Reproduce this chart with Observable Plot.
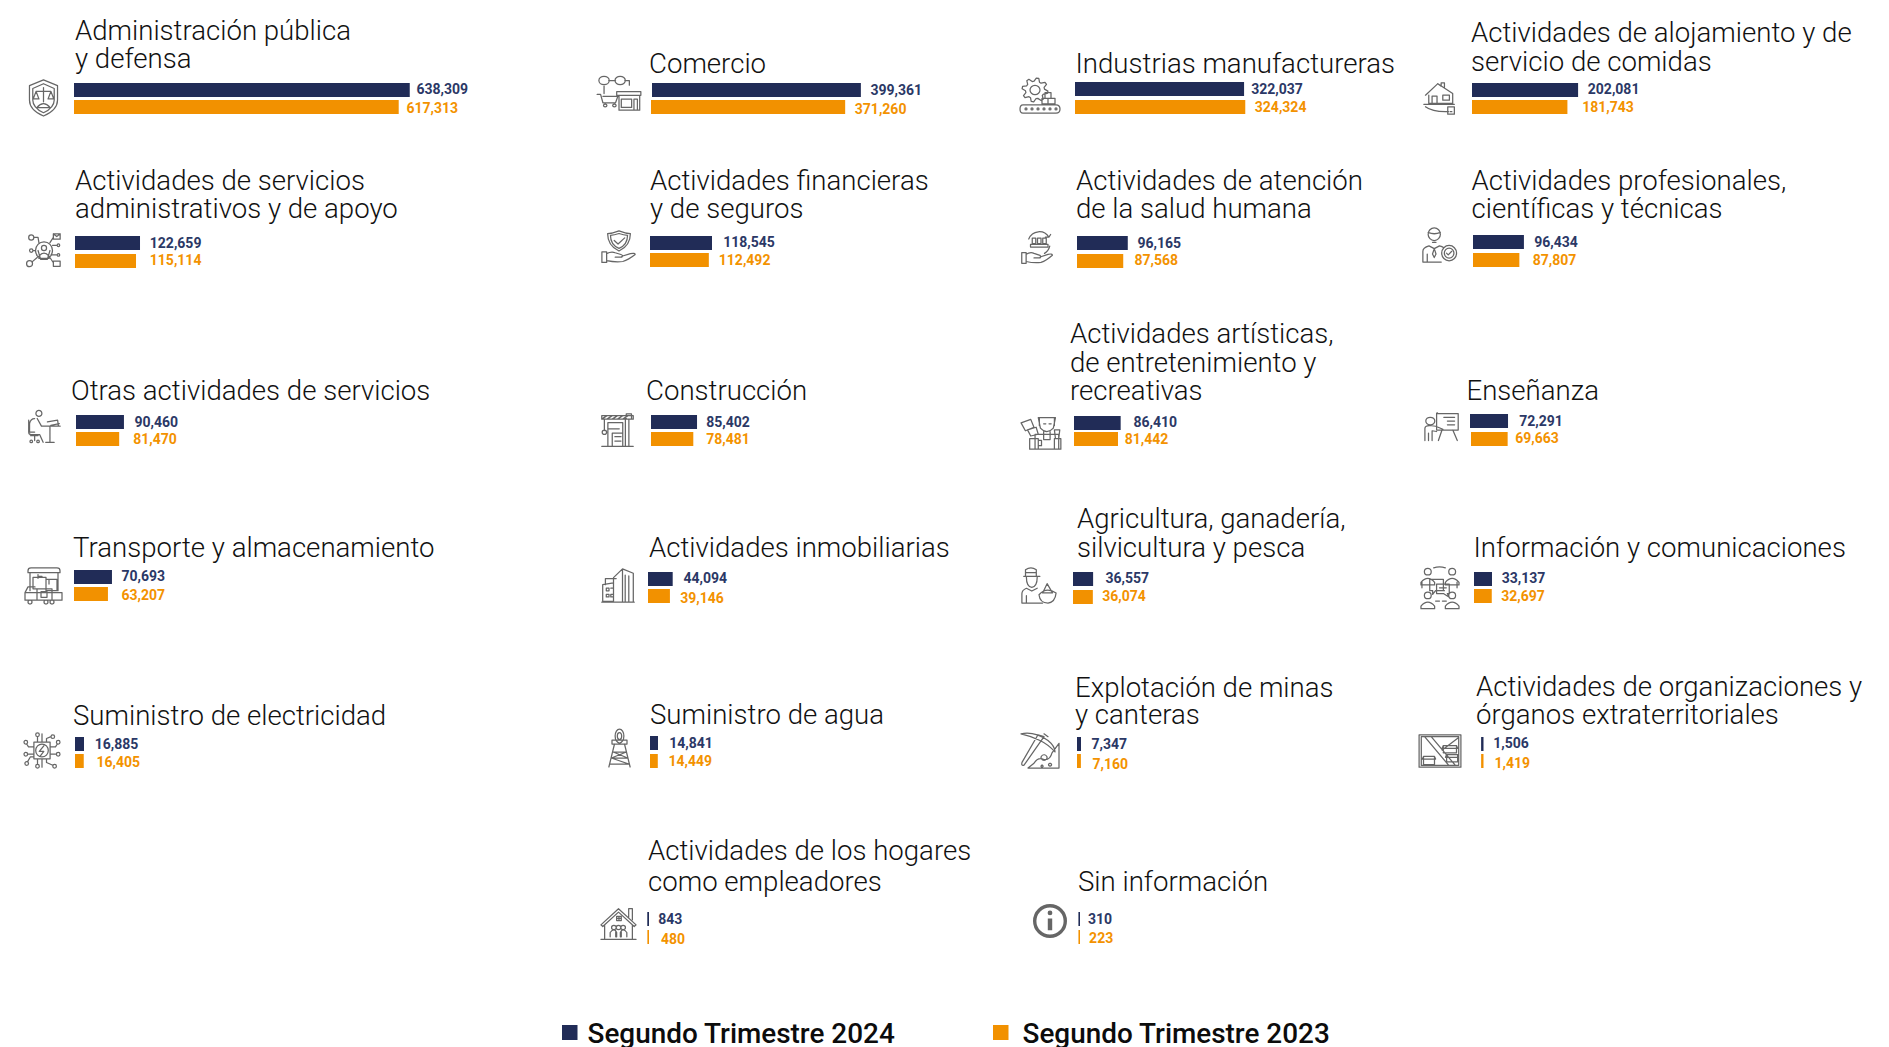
<!DOCTYPE html>
<html lang="es">
<head>
<meta charset="utf-8">
<title>Ocupados por actividad económica</title>
<script src="https://cdn.jsdelivr.net/npm/d3@7"></script>
<script src="https://cdn.jsdelivr.net/npm/@observablehq/plot@0.6"></script>
<style>
  html, body { margin: 0; padding: 0; background: #fff; }
  #page { position: relative; width: 1889px; height: 1047px; overflow: hidden; background: #fff; font-family: Roboto, sans-serif; }
  #page > svg { position: absolute; }
  .tit { font-family: Roboto, sans-serif; font-weight: 300; fill: #111; }
  .leg { font-family: Roboto, sans-serif; font-weight: 500; fill: #0c0c0c; }
</style>
</head>
<body>
<div id="page"></div>
<script>
// ---------- data ----------
const series = ["Segundo Trimestre 2024", "Segundo Trimestre 2023"];
const sectors = [
  ["Administración pública", "y defensa"],
  ["Comercio"],
  ["Industrias manufactureras"],
  ["Actividades de alojamiento y de", "servicio de comidas"],
  ["Actividades de servicios", "administrativos y de apoyo"],
  ["Actividades financieras", "y de seguros"],
  ["Actividades de atención", "de la salud humana"],
  ["Actividades profesionales,", "científicas y técnicas"],
  ["Otras actividades de servicios"],
  ["Construcción"],
  ["Actividades artísticas,", "de entretenimiento y", "recreativas"],
  ["Enseñanza"],
  ["Transporte y almacenamiento"],
  ["Actividades inmobiliarias"],
  ["Agricultura, ganadería,", "silvicultura y pesca"],
  ["Información y comunicaciones"],
  ["Suministro de electricidad"],
  ["Suministro de agua"],
  ["Explotación de minas", "y canteras"],
  ["Actividades de organizaciones y", "órganos extraterritoriales"],
  ["Actividades de los hogares", "como empleadores"],
  ["Sin información"]
];
const values2024 = [638309, 399361, 322037, 202081, 122659, 118545, 96165, 96434, 90460, 85402, 86410, 72291, 70693, 44094, 36557, 33137, 16885, 14841, 7347, 1506, 843, 310];
const values2023 = [617313, 371260, 324324, 181743, 115114, 112492, 87568, 87807, 81470, 78481, 81442, 69663, 63207, 39146, 36074, 32697, 16405, 14449, 7160, 1419, 480, 223];

// ---------- layout (pixels on the page, kept apart from the data) ----------
// tx: title left, tb: title baselines, nx/ny navy bar left/top, ox/oy orange bar left/top,
// lnx/lny navy label left/centre, lox/loy orange label left/centre, k: px per 1000 units, min: minimum mark width
const layout = [
  {tx:75,tb:[39.5,67.5],nx:74,ny:83,ox:74,oy:100,lnx:416,lny:89.5,lox:406,loy:108,k:.526,ic:[27,60,79,117]},
  {tx:649,tb:[72.5],nx:652,ny:83,ox:651,oy:100,lnx:870,lny:89.7,lox:854.3,loy:109,k:.523,ic:[596,642,75,112]},
  {tx:1075.5,tb:[72.5],nx:1075,ny:82,ox:1075,oy:100,lnx:1250.7,lny:89.3,lox:1254.3,loy:106.7,k:.525,ic:[1020,1060,77,114]},
  {tx:1471,tb:[42,70.5],nx:1472,ny:83,ox:1472,oy:100,lnx:1587.3,lny:88.7,lox:1581.7,loy:107.3,k:.525,ic:[1423,1456,82,115]},
  {tx:75,tb:[190,218.3],nx:75,ny:236,ox:75,oy:254,lnx:149.3,lny:242.7,lox:149.3,loy:260,k:.53,ic:[27,61,233,268]},
  {tx:650,tb:[190,218.3],nx:650,ny:236,ox:650,oy:253,lnx:722.7,lny:242,lox:718.3,loy:260,k:.523,ic:[600,638,230,265]},
  {tx:1076,tb:[190,218.3],nx:1077,ny:236,ox:1077,oy:254,lnx:1137,lny:242.7,lox:1134,loy:260,k:.528,ic:[1020,1055,230,266]},
  {tx:1471.5,tb:[190,218.3],nx:1473,ny:235,ox:1473,oy:253,lnx:1533.7,lny:242,lox:1532.3,loy:259.7,k:.528,ic:[1422,1457,227,263]},
  {tx:71,tb:[399.8],nx:76,ny:415,ox:76,oy:432,lnx:134,lny:421.7,lox:132.7,loy:439.3,k:.53,ic:[27,61,410,444]},
  {tx:646,tb:[399.8],nx:651,ny:415,ox:651,oy:432,lnx:705.7,lny:421.7,lox:705.7,loy:439.3,k:.539,ic:[600,635,413,448]},
  {tx:1070,tb:[343.3,371.5,399.8],nx:1074,ny:416,ox:1074,oy:432,lnx:1133,lny:422,lox:1124.3,loy:439.3,k:.54,ic:[1020,1063,415,450]},
  {tx:1466.5,tb:[399.8],nx:1470,ny:414,ox:1471,oy:432,lnx:1518.7,lny:420.7,lox:1514.7,loy:438.3,k:.526,ic:[1424,1460,412,442]},
  {tx:73,tb:[556.7],nx:74,ny:570,ox:74,oy:587,lnx:121,lny:576,lox:121,loy:595.3,k:.537,ic:[24,64,566,604]},
  {tx:649,tb:[556.7],nx:648,ny:572,ox:648,oy:589,lnx:683,lny:578.3,lox:679.7,loy:597.7,k:.56,ic:[600,636,568,603]},
  {tx:1077,tb:[528.3,556.7],nx:1073,ny:572,ox:1073,oy:590,lnx:1105,lny:578.3,lox:1101.7,loy:596.3,k:.55,ic:[1021,1057,567,604]},
  {tx:1473.5,tb:[556.7],nx:1474,ny:572,ox:1474,oy:589,lnx:1501.3,lny:578.3,lox:1500.7,loy:596,k:.543,ic:[1420,1459,565,603]},
  {tx:73,tb:[725],nx:75,ny:737,ox:75,oy:754,lnx:94.3,lny:743.7,lox:96,loy:761.7,k:.533,ic:[24,60,732,769]},
  {tx:650,tb:[724],nx:650,ny:736,ox:650,oy:754,lnx:668.7,lny:743.3,lox:668,loy:761,k:.539,ic:[607,632,728,768]},
  {tx:1075,tb:[696.7,724.3],nx:1077,ny:737,ox:1077,oy:754,lnx:1091,lny:744,lox:1092,loy:764,k:.544,ic:[1020,1060,731,769]},
  {tx:1476,tb:[695.7,724.3],nx:1481,ny:737,ox:1481,oy:754,lnx:1492.7,lny:742.7,lox:1494,loy:762.7,k:.525,min:2,ic:[1418,1462,733,769]},
  {tx:648,tb:[860,891],nx:647,ny:912,ox:647,oy:930,lnx:657.8,lny:918.7,lox:660.5,loy:938.7,k:.525,min:1.5,ic:[600,637,907,941]},
  {tx:1078,tb:[891],nx:1078,ny:912,ox:1078,oy:930,lnx:1087.4,lny:918.7,lox:1088.6,loy:938,k:.525,min:1.5,ic:[1033,1067,904,938]}
];
const NAVY = "#212c57", ORANGE = "#f29100", LABEL_NAVY = "#2b3866", LABEL_ORANGE = "#f39200", ICON = "#666666";
const TITLE_SIZE = 27.6, LABEL_SIZE = 14, BAR_H = 14, X_MAX = 650000;

// ---------- pictograms (outline drawings in a 40×40 box) ----------
const o = (x, y, r) => `M${x - r} ${y}a${r} ${r} 0 1 0 ${2 * r} 0a${r} ${r} 0 1 0 ${-2 * r} 0`;
const q = (x, y, w, h) => `M${x} ${y}h${w}v${h}h${-w}z`;
const gear = (cx, cy, R, r, n) => d3.range(n * 4).map(i => {
  const a = (i + .5) / (n * 4) * 2 * Math.PI, rr = (i % 4 < 2) ? R : r;
  return (i ? "L" : "M") + (cx + rr * Math.cos(a)).toFixed(1) + " " + (cy + rr * Math.sin(a)).toFixed(1);
}).join("") + "z";
const head = (x, y, s) => o(x, y, s) + `M${x - 2 * s} ${y + 3.2 * s}q${2 * s} ${-2.4 * s} ${4 * s} 0v${.8 * s}h${-4 * s}z`;
const hand = "M2 25h5v12H2zM7 27q5-3 9-1l6 2q3 1 1 3l-7 0M23 30l9-3q5-1 5 1-7 6-13 8-8 1-17-1";
const icons = [
  "M20 1L37 7V22C37 31 28 36 20 39C12 36 3 31 3 22V7ZM20 5L33 10V22C33 29 26 33 20 35.5C14 33 7 29 7 22V10ZM20 9V24M11 13H29M11 13L7.5 21H14.5ZM29 13L25.5 21H32.5ZM12 30Q20 22 28 30Z",
  o(7,6,4.5)+o(21,6,4.5)+"M11 6h6M25 6h4v5M7 20v-8M1 21h3l2 9h11l2-7H6"+o(8,33,1.5)+o(16,33,1.5)+"M18 18h21v4h-21zM20 22v16h18V22"+q(22,26,9,9)+q(33,26,3,12),
  gear(15,14,13,9.5,8)+o(15,14,5)+q(25,17,6,6)+q(22,23,6,6)+q(28,23,7,6)+"M3 30h33q4 0 4 4.5t-4 4.5H3q-3 0-3-4.5T3 30z"+o(6,34.5,1)+o(12,34.5,1)+o(18,34.5,1)+o(24,34.5,1)+o(30,34.5,1)+o(36,34.5,1),
  "M3 16L18 2L36 14V26H7V16M18 2L22 5V1h4v6M11 26V17h6v9M24 16h8v6h-8zM1 27H38M3 30q8 6 24 6h4M30 30h8v9h-8zM33 36h2",
  o(20,20,10)+head(20,17,3)+o(5,5,3)+o(5,20,2)+o(3,35,3.5)+q(31,1,8,6)+"M31 1l4 3 4-3"+q(31,32,8,6)+o(37,14,1.5)+o(37,25,1.5)+"M8 5H13L14 11M7 20H10M6 33L12 28M31 5L27 11M35.5 14H30M35.5 25H29M31 34L27 28M13 20l3 10h8l3-10",
  "M20 1q7 3 12 3 0 14-12 20Q8 18 8 4q5 0 12-3zM20 4q5 2 9 2 0 11-9 15Q11 17 11 6q4 0 9-2zM15 12l4 4 7-7"+hand,
  "M10 10A13 13 0 0 1 33 8M34 18A13 13 0 0 1 28 26M33 8l2-3M33 8l-4 0"+q(14,9,4,6)+q(20,9,4,6)+q(26,9,4,6)+"M12 16h20v3H12z"+hand,
  o(14,8,7)+"M7 6q7 3 14 0M12 17h4M1 39V27q0-4 7-6l6 3 6-3q3 .5 5 2M6 30v9M14 24l-2 6 2 4 2-4zM1 39H22"+o(31,29,8.5)+o(31,29,5.5)+"M28 29l2 2 4-4",
  o(14,4,3.5)+"M9 10q-5 0-6 6v10h6M12 10l5 9h9M2 12v14q0 3 3 3h10l4 9M4 30h9M9 30v6"+o(5,37,1.5)+o(13,37,1.5)+"M17 19H39M27 19v18M22 38H32M24 14l12-2 1 7M28 18l10-2",
  "M2 3H38V7H2zM2 7L8 3M8 7L14 3M14 7L20 3M20 7L26 3M26 7L32 3M30 1h6v6h-6zM33 7V37M29 7V37M5 7V20"+o(5,22,2.5)+"M9 11H26V38H9zM9 18H22M14 23H26V38H14zM17 27H24M17 32H24M2 38H38",
  "M1 9l9-4 3 9-8 4zM7 17l8-3 2 8-7 2zM17 3H33L31 15Q25 23 19 15ZM18 3V12M32 3V12M14 22H36V39H14zM22 19V28H28V19M22 10h2M27 10h2M9 27h8v12H9zM17 29h3v6h-3M32 17h5l-1 10h-3zM32 27h6v12h-6z",
  o(7,12,5)+"M1 38V22q0-4 5-4l7 1 8 4M5 38V28M9 38V25l5 1M14 2H38V24H14zM14 2q0-1 1-1M22 7H34M26 12H34M26 17H34M20 24L16 38M32 24L37 38",
  "M4 5q0-3 3-3h26q3 0 3 3v2H4zM6 7V26M34 7V26M9 12H22V24H9zM22 14H33V26H22zM14 9v4M15 11h3M25 14v5M1 28H38V36H1zM13 24H28V36H13zM17 27h6v6h-6zM1 28l3-6h7"+o(6,38,2)+o(22,38,2)+o(28,38,2),
  "M3 38V19L15 17V38zM2 39H38M7 23h3v3H7zM12 23h3M7 30h3v3H7zM12 30h3v3h-3zM15 38V11L25 1V38M25 1L37 6V38M28 8V38M32 9V38M6 19V12H18",
  "M3 10H21M5 10V3Q11-1 17 3V10M5 6H17M6 11Q6 21 12 22Q18 21 18 11M1 39V29Q1 25 6 23L12 26L18 23M6 31V39M20 30Q28 21 39 28Q38 38 30 39Q21 39 20 30ZM29 18L35 28H24ZM1 39H24",
  head(8,7,3.5)+head(33,7,3.5)+head(8,32,3.5)+head(33,32,3.5)+"M14 3q6-2 12 0M2 18v6M38 18v6M16 38h4M23 38h4M10 15H24V27H16L13 31V27H10ZM17 20H30V30H28L30 34L24 30H17ZM20 24H27M20 27H25",
  q(11,11,18,18)+o(20,20,7)+"M22 15L17 21H22L18 26M15 11V5"+o(15,3,2)+"M25 11V7L30 5"+o(32,5,2)+"M20 11V2M11 16H5L3 13"+o(2,11,2)+"M11 24H4"+o(2,24,2)+"M29 16H35L37 13"+o(38,11,2)+"M29 24H36"+o(38,24,2)+"M15 29V35"+o(15,37,2)+"M25 29V33L32 36"+o(34,37,2)+"M20 29V38M11 27H7L4 32"+o(3,34,2),
  o(20,8,7)+o(20,8,3.5)+"M8 12H32V16H8zM11 16H29M12 16L3 39M28 16L37 39M9 24H31M7 30H33L10 24M33 30L10 24M7 30L31 24M5 36H35L7 30M35 36L7 30",
  "M1 3Q14 0 28 10Q35 16 35 22Q28 14 20 10Q10 5 1 3ZM18 4L24 6 4 36Q1 37 2 33ZM24 3L28 6M24 25a3 3 0 1 0 .1 0M39 13V39H8L14 34Q18 27 24 30Q30 31 32 23ZM22 36a1 1 0 1 0 .1 0M30 34a1.5 1.5 0 1 0 .1 0",
  "M1 2H39V38H1zM3 4H37V36H3zM6 4L28 36M12 4L34 36M37 5L22 19M23 14H35V22H23ZM23 14l-1 3h14l-1-3M5 26H15V35H5ZM5 26l-1 3h12l-1-3M26 24H36V32H26ZM26 24l-1 3h12l-1-3",
  "M20 2L1 21L3 23L20 6L37 23L39 21ZM5 21V38H35V21M31 12V2H35V15M1 38H39M18 11h5v5h-5zM20.5 11v5M18 13.5h5"+o(15,24,2.5)+o(20,24,2.5)+o(25,24,2.5)+"M11 35v-5q2-3 4-3t3 3v5M17 35v-6M23 35v-6M22 35v-5q1-3 3-3t4 3v5",
  o(20,20,18)
];
const solidInfo = o(20,10.5,2.8) + "M17.4 17h5.2v14h-5.2z";

// ---------- page ----------
const page = d3.select("#page");
const overlay = page.append("svg").attr("width", 1889).attr("height", 1047).style("left", 0).style("top", 0);

sectors.forEach((lines, i) => {
  const L = layout[i];
  lines.forEach((t, j) => overlay.append("text").attr("class", "tit").attr("x", L.tx).attr("y", L.tb[j]).attr("font-size", TITLE_SIZE).text(t));
  const [x0, x1, y0, y1] = L.ic;
  const isInfo = i === 21;
  const tf = `translate(${x0},${y0}) scale(${(x1 - x0) / 40},${(y1 - y0) / 40})`;
  overlay.append("path")
    .attr("d", icons[i]).attr("transform", tf)
    .attr("fill", "none").attr("stroke", ICON)
    .attr("stroke-width", isInfo ? 3.4 : 1.25)
    .attr("stroke-linejoin", "round").attr("stroke-linecap", "round")
    .attr("vector-effect", "non-scaling-stroke");
  if (isInfo) overlay.append("path").attr("d", solidInfo).attr("transform", tf).attr("fill", ICON);
});

// legend
[[562, 587.5], [993, 1022.5]].forEach(([sx, tx], i) => {
  overlay.append("rect").attr("x", sx).attr("y", 1025).attr("width", 15.5).attr("height", 15).attr("fill", i ? ORANGE : NAVY);
  overlay.append("text").attr("class", "leg").attr("x", tx).attr("y", 1043).attr("font-size", 27.9).text(series[i]);
});

// one small bar panel per sector, each drawn by Plot
const fmt = d3.format(",");
sectors.forEach((lines, i) => {
  const L = layout[i];
  const rows = [
    {serie: series[0], value: values2024[i], bx: L.nx, lx: L.lnx, ly: L.lny, tc: LABEL_NAVY},
    {serie: series[1], value: values2023[i], bx: L.ox, lx: L.lox, ly: L.loy, tc: LABEL_ORANGE}
  ];
  const gap = L.oy - L.ny - BAR_H, h = 2 * BAR_H + gap, ml = 8, mt = 10;
  const width = 440, height = h + 2 * mt;
  const marks = [];
  const centers = [L.ny + BAR_H / 2, L.oy + BAR_H / 2];
  rows.forEach((r, k) => {
    const dx = r.bx - L.nx;
    marks.push(Plot.barX([r], {x: "value", y: "serie", fill: "serie", dx}));
    if (L.min) marks.push(Plot.tickX([r], {x: () => 0, y: "serie", stroke: "serie", strokeWidth: L.min, dx: dx + L.min / 2}));
    marks.push(Plot.text([r], {
      x: () => 0, y: "serie", text: d => fmt(d.value), fill: r.tc,
      textAnchor: "start", dx: r.lx - L.nx, dy: r.ly - centers[k],
      fontFamily: "Roboto, sans-serif", fontWeight: 700, fontSize: LABEL_SIZE
    }));
  });
  const svg = Plot.plot({
    width, height, marginLeft: ml, marginRight: 0, marginTop: mt, marginBottom: mt,
    style: {background: "transparent", overflow: "visible"},
    x: {domain: [0, X_MAX], range: [ml, ml + L.k / 1000 * X_MAX], axis: null},
    y: {type: "band", domain: series, range: [mt, mt + h], paddingInner: gap / (BAR_H + gap), paddingOuter: 0, round: false, axis: null},
    color: {domain: series, range: [NAVY, ORANGE]},
    marks
  });
  svg.style.position = "absolute";
  svg.style.left = (L.nx - ml) + "px";
  svg.style.top = (L.ny - mt) + "px";
  svg.style.maxWidth = "none";
  page.node().appendChild(svg);
});
</script>
</body>
</html>
